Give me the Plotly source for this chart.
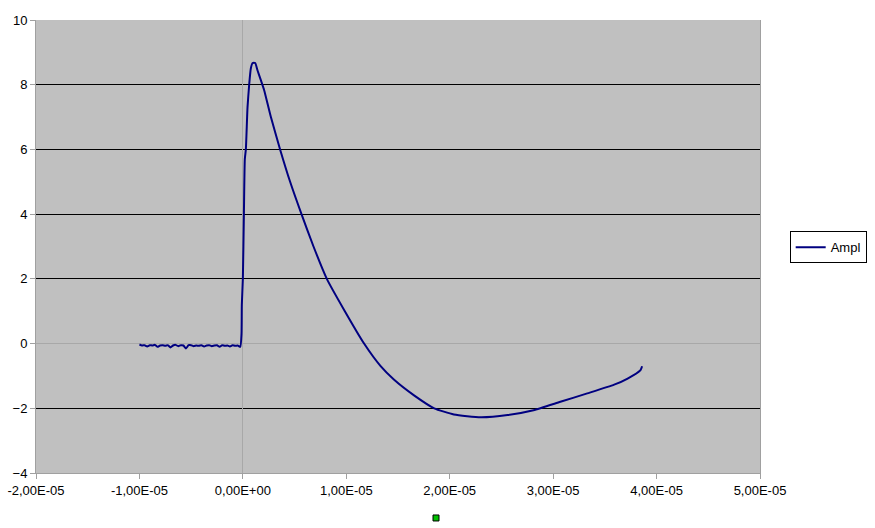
import plotly.graph_objects as go

# ---- data (time in seconds, amplitude) ----
baseline_t_us = [-10.0, -9.75, -9.5, -9.25, -9.0, -8.75, -8.5, -8.25, -8.0, -7.75,
                 -7.5, -7.25, -7.0, -6.75, -6.5, -6.25, -6.0, -5.75, -5.5, -5.25,
                 -5.0, -4.75, -4.5, -4.25, -4.0, -3.75, -3.5, -3.25, -3.0, -2.75,
                 -2.5, -2.25, -2.0, -1.75, -1.5, -1.25, -1.0, -0.75, -0.5, -0.25]
baseline_ampl = [-0.03, -0.06, -0.05, -0.09, -0.05, -0.06, -0.04, -0.10, -0.06, -0.05,
                 -0.07, -0.05, -0.12, -0.06, -0.04, -0.08, -0.05, -0.06, -0.15, -0.05,
                 -0.05, -0.08, -0.06, -0.07, -0.05, -0.09, -0.06, -0.05, -0.08, -0.06,
                 -0.05, -0.10, -0.05, -0.07, -0.06, -0.09, -0.05, -0.07, -0.06, -0.10]
pulse_t_us = [-0.13, -0.10, 0.0, 0.10, 0.19, 0.29, 0.45, 0.61, 0.77, 0.94, 1.19, 1.42,
              1.74, 2.06, 2.71, 3.6, 4.57, 5.67, 6.83, 8.12, 9.86, 11.72, 13.3, 14.6,
              16.55, 18.5, 20.4, 23.0, 25.6, 28.1, 30.7, 33.3, 35.9, 37.2, 38.45, 38.6]
pulse_ampl = [0.3, 1.2, 2.0, 4.0, 5.7, 6.0, 7.3, 8.0, 8.5, 8.67, 8.67, 8.44,
              8.14, 7.83, 7.0, 6.0, 5.0, 4.0, 3.0, 2.0, 1.0, 0.0, -0.69, -1.11,
              -1.6, -2.0, -2.19, -2.28, -2.21, -2.06, -1.80, -1.54, -1.27, -1.08, -0.82, -0.70]

time_s = [t * 1e-6 for t in baseline_t_us + pulse_t_us]
ampl = baseline_ampl + pulse_ampl

x_tickvals = [-2e-5, -1e-5, 0, 1e-5, 2e-5, 3e-5, 4e-5, 5e-5]
x_ticktext = ["-2,00E-05", "-1,00E-05", "0,00E+00", "1,00E-05",
              "2,00E-05", "3,00E-05", "4,00E-05", "5,00E-05"]
y_tickvals = [-4, -2, 0, 2, 4, 6, 8, 10]

font_family = "Liberation Sans, Arial, sans-serif"

fig = go.Figure()
fig.add_trace(go.Scatter(
    x=time_s, y=ampl, mode="lines", name="Ampl",
    line=dict(color="#000080", width=2, shape="spline", smoothing=0.5),
))

fig.update_layout(
    width=875, height=528,
    margin=dict(l=36, r=115, t=20, b=55, autoexpand=False),
    paper_bgcolor="white",
    plot_bgcolor="#C0C0C0",
    font=dict(family=font_family, size=13, color="black"),
    showlegend=True,
    legend=dict(
        x=1.041, y=0.498, xanchor="left", yanchor="middle",
        bgcolor="white", bordercolor="black", borderwidth=1,
        font=dict(family=font_family, size=13, color="black"),
        itemwidth=30,
    ),
    xaxis=dict(
        range=[-2e-5, 5e-5],
        tickvals=x_tickvals, ticktext=x_ticktext,
        showgrid=False, automargin=False,
        zeroline=True, zerolinecolor="#A8A8A8", zerolinewidth=1,
        showline=True, linecolor="#A0A0A0", linewidth=1,
        ticks="outside", ticklen=5, tickcolor="#A0A0A0",
        tickfont=dict(size=13),
    ),
    yaxis=dict(
        range=[-4, 10],
        tickvals=y_tickvals, automargin=False,
        showgrid=True, gridcolor="black", gridwidth=1,
        zeroline=True, zerolinecolor="#A8A8A8", zerolinewidth=1,
        showline=True, linecolor="#A0A0A0", linewidth=1, mirror=True,
        ticks="outside", ticklen=5, tickcolor="#A0A0A0",
        tickfont=dict(size=13),
    ),
    shapes=[dict(
        type="rect", xref="paper", yref="paper",
        xsizemode="pixel", ysizemode="pixel",
        xanchor=0.5525, yanchor=-0.0993,
        x0=-3, x1=3, y0=-3, y1=3,
        fillcolor="#00C000", line=dict(color="black", width=1),
    )],
)

fig.write_html("out.html",
               config={"displayModeBar": False},
               post_script="document.body.style.margin='0';document.body.style.padding='0';")
